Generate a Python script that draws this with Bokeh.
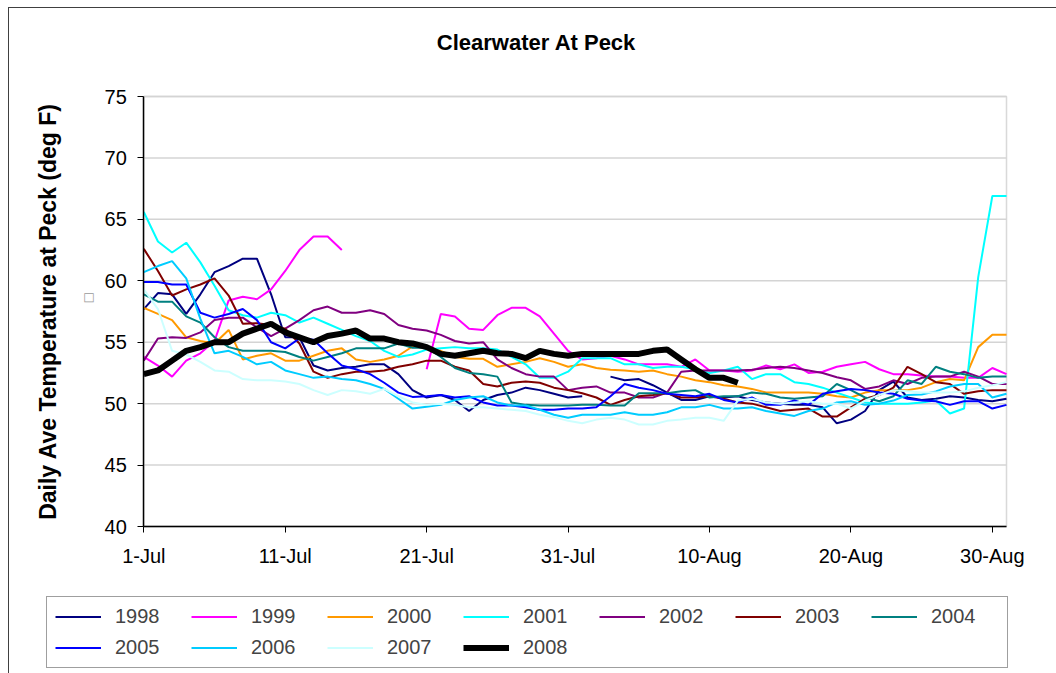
import math
from bokeh.plotting import figure
from bokeh.layouts import column
from bokeh.models import (Legend, LegendItem, FixedTicker, LinearAxis, Label,
                          BoxAnnotation, Range1d)
from bokeh.embed import file_html
from bokeh.resources import INLINE

N = None
days = list(range(62))
tick_days = [0, 10, 20, 30, 40, 50, 60]
tick_labels = ["1-Jul", "11-Jul", "21-Jul", "31-Jul", "10-Aug", "20-Aug", "30-Aug"]
y_ticks = [40, 45, 50, 55, 60, 65, 70, 75]
years = ["1998", "1999", "2000", "2001", "2002", "2003", "2004", "2005", "2006", "2007", "2008"]
chart_title = "Clearwater At Peck"
y_title = "Daily Ave Temperature at Peck (deg F)"

y1998 = [57.7, 59.0, 58.9, 57.3, 58.9, 60.7, 61.2, 61.8, 61.8, 58.9,
         55.4, 55.4, 53.1, 52.7, 52.9, 53.0, 53.2, 53.2, 52.4, 51.1,
         50.5, 50.7, 50.3, 49.4, 50.3, 50.7, 50.9, 51.3, 51.1, 50.8,
         50.5, 50.6, N, 52.2, 51.9, 52.0, 51.5, 50.9, 50.3, 50.3,
         50.6, 50.5, 50.6, 50.3, 50.1, 50.0, 49.9, 49.9, 49.7, 48.4,
         48.7, 49.4, 51.1, 51.8, 50.5, 50.3, 50.4, 50.6, 50.5, 50.3,
         50.2, 50.4]
y1999 = [53.8, 53.1, 52.2, 53.5, 54.1, 55.1, 58.4, 58.7, 58.5, 59.3,
         60.8, 62.5, 63.6, 63.6, 62.5, N, N, N, N, N,
         52.8, 57.3, 57.1, 56.1, 56.0, 57.2, 57.8, 57.8, 57.1, 55.7,
         54.3, 53.6, 53.7, 53.9, 53.6, 53.2, 53.2, 53.2, 53.0, 53.6,
         52.7, 52.7, 52.6, 52.7, 53.1, 52.8, 53.2, 52.5, 52.6, 53.0,
         53.2, 53.4, 52.8, 52.4, 52.4, 52.3, 52.2, 52.2, 52.1, 52.1,
         52.9, 52.4]
y2000 = [57.8, 57.3, 56.8, 55.4, 55.1, 54.9, 56.0, 53.6, 53.9, 54.1,
         53.5, 53.5, 53.9, 54.3, 54.5, 53.6, 53.4, 53.6, 53.9, 54.65,
         54.5, 54.3, 53.8, 53.65, 53.65, 53.0, 53.2, 53.4, 53.7, 53.4,
         53.0, 53.2, 52.9, 52.75, 52.7, 52.6, 52.7, 52.4, 52.2, 51.9,
         51.75, 51.5, 51.4, 51.2, 50.9, 50.9, 50.9, 50.9, 50.8, 50.6,
         50.5, 50.9, 51.1, 51.1, 51.1, 51.3, 51.75, 52.0, 51.9, 54.6,
         55.6, 55.6]
y2001 = [65.6, 63.2, 62.3, 63.1, 61.5, 59.6, 57.6, 57.2, 57.0, 57.4,
         57.2, 56.6, 57.0, 56.5, 56.0, 55.5, 55.1, 54.3, 53.8, 54.0,
         54.4, 54.5, 54.6, 54.5, 54.5, 54.4, 53.8, 53.2, 52.1, 52.1,
         52.6, 53.7, 53.7, 53.7, 53.2, 53.2, 52.9, 53.0, 53.0, 52.8,
         52.5, 52.7, 53.0, 52.0, 52.4, 52.4, 51.75, 51.6, 51.3, 50.9,
         50.5, 50.1, 50.0, 50.0, 50.0, 50.1, 50.25, 49.2, 49.6, 60.3,
         66.9, 66.9]
y2002 = [53.5, 55.3, 55.4, 55.35, 55.8, 56.8, 57.0, 57.0, 56.2, 55.5,
         56.1, 56.8, 57.6, 57.9, 57.4, 57.4, 57.6, 57.3, 56.4, 56.1,
         55.95, 55.6, 55.1, 54.9, 55.0, 53.6, 52.9, 52.4, 52.2, 52.2,
         51.1, 51.3, 51.4, 50.9, 50.9, 50.5, 50.5, 50.9, 52.6, 52.7,
         52.7, 52.7, 52.7, 52.75, 52.9, 53.0, 52.9, 52.7, 52.5, 52.15,
         51.9, 51.2, 51.4, 51.9, 51.6, 52.1, 52.2, 52.2, 52.6, 52.2,
         51.6, 51.6]
y2003 = [62.6, 60.8, 58.8, 59.3, 59.7, 60.2, 58.8, 56.5, 56.55, 56.4,
         56.1, 54.9, 52.6, 52.1, 52.4, 52.6, 52.6, 52.7, 53.0, 53.2,
         53.5, 53.5, 53.0, 52.7, 51.6, 51.4, 51.7, 51.8, 51.7, 51.3,
         51.1, 50.85, 50.5, 49.9, 50.3, 50.6, 50.7, 50.85, 50.5, 50.5,
         50.6, 50.4, 50.1, 50.0, 49.7, 49.4, 49.5, 49.6, 48.95, 48.95,
         49.7, 50.4, 50.7, 51.3, 53.0, 52.4, 51.75, 51.6, 50.8, 51.0,
         51.1, 51.1]
y2004 = [58.9, 58.3, 58.3, 57.1, 56.6, 55.4, 54.6, 54.3, 54.3, 54.3,
         54.2, 53.8, 53.5, 53.8, 54.1, 54.5, 54.5, 54.5, 54.9, 54.55,
         54.55, 53.8, 52.9, 52.5, 52.4, 52.2, 50.1, 49.9, 49.85, 49.85,
         49.85, 49.9, 49.9, 49.85, 49.85, 50.85, 50.85, 50.85, 51.0, 51.1,
         50.5, 50.6, 50.6, 50.9, 50.8, 50.5, 50.4, 50.5, 50.6, 51.6,
         51.1, 50.5, 50.2, 50.6, 51.9, 51.6, 53.0, 52.6, 52.4, 52.1,
         52.2, 52.2]
y2005 = [59.9, 59.9, 59.7, 59.7, 57.4, 57.0, 57.3, 57.7, 56.8, 55.0,
         54.5, 55.3, 55.2, 54.1, 53.1, 52.8, 52.4, 51.7, 50.9, 50.55,
         50.6, 50.7, 50.5, 50.6, 50.1, 49.85, 49.85, 49.7, 49.5, 49.5,
         49.6, 49.6, 49.7, 50.6, 51.6, 51.3, 51.1, 50.8, 50.7, 50.6,
         50.8, 50.3, 50.1, 50.5, 49.9, 49.9, 50.25, 49.9, 50.8, 51.0,
         51.2, 51.1, 50.9, 50.8, 50.4, 50.25, 50.2, 49.9, 50.2, 50.2,
         49.6, 49.9]
y2006 = [60.7, 61.2, 61.6, 60.2, 56.9, 54.1, 54.3, 53.8, 53.2, 53.4,
         52.7, 52.4, 52.1, 52.2, 52.0, 51.9, 51.6, 51.2, 50.4, 49.6,
         49.75, 49.9, 50.3, 50.5, 50.6, 50.1, 49.85, 49.85, 49.5, 49.1,
         48.85, 49.1, 49.1, 49.1, 49.3, 49.1, 49.1, 49.3, 49.7, 49.7,
         49.9, 49.6, 49.6, 49.7, 49.4, 49.2, 49.0, 49.4, 49.6, 50.1,
         50.2, 49.9, 50.0, 50.25, 50.7, 50.75, 51.0, 51.4, 51.6, 51.6,
         50.5, 50.8]
y2007 = [59.3, 57.7, 54.3, 54.0, 53.4, 52.7, 52.6, 52.0, 51.9, 51.9,
         51.8, 51.6, 51.1, 50.7, 51.1, 51.0, 50.8, 51.2, 50.6, 50.1,
         49.9, 50.0, 49.9, 49.7, 49.7, 49.6, 49.5, 49.4, 49.1, 48.9,
         48.6, 48.4, 48.7, 48.85, 48.7, 48.3, 48.3, 48.6, 48.7, 48.85,
         48.85, 48.6, 50.25, 50.4, 50.1, 50.0, 50.1, 50.2, 50.0, 50.0,
         49.6, 50.25, 50.7, 51.1, 51.0, 50.9, 50.9, 50.9, 51.0, 51.3,
         51.5, 51.75]
y2008 = [52.4, 52.7, 53.5, 54.3, 54.6, 55.0, 55.0, 55.7, 56.1, 56.5,
         55.8, 55.4, 55.0, 55.5, 55.7, 55.95, 55.3, 55.3, 55.0, 54.9,
         54.6, 54.05, 53.9, 54.1, 54.3, 54.1, 54.05, 53.7, 54.3, 54.05,
         53.9, 54.05, 54.05, 54.05, 54.05, 54.05, 54.3, 54.4, 53.6, 52.8,
         52.1, 52.1, 51.7, N, N, N, N, N, N, N,
         N, N, N, N, N, N, N, N, N, N,
         N, N]

series = [y1998, y1999, y2000, y2001, y2002, y2003, y2004, y2005, y2006, y2007, y2008]
colors = ["#000080", "#FF00FF", "#FF9900", "#00FFFF", "#800080", "#800000",
          "#008080", "#0000FF", "#00CCFF", "#CCFFFF", "#000000"]
widths = [2, 2, 2, 2, 2, 2, 2, 2, 2, 2, 6]

FONT = "Liberation Sans"

# ---- geometry: one plot whose frame is the whole canvas; the data area sits inside it
W, H = 1047, 665
X0, X1 = 0, 61            # data area, days since 1-Jul
Y0, Y1 = 40, 75           # data area, deg F
AREA_L, AREA_R = 134.3, 997.0   # data-area edges in canvas px
AREA_T, AREA_B = 88.0, 518.0
sx = (AREA_R - AREA_L) / (X1 - X0)
sy = (AREA_B - AREA_T) / (Y1 - Y0)
xr = Range1d(X0 - AREA_L / sx, X1 + (W - AREA_R) / sx)
yr = Range1d(Y0 - (H - AREA_B) / sy, Y1 + AREA_T / sy)


def px_x(c):
    return xr.start + c / sx


def px_y(c):
    return yr.end - c / sy


def clean(ys):
    return [float("nan") if v is None else v for v in ys]


p = figure(width=W, height=H, output_backend="svg", toolbar_location=None,
           x_range=xr, y_range=yr, x_axis_location=None, y_axis_location=None,
           min_border=0, min_border_left=0, min_border_right=0,
           min_border_top=0, min_border_bottom=0)
p.grid.visible = False
p.outline_line_color = None
p.background_fill_color = "white"
p.border_fill_color = "white"

# horizontal gridlines at the y tick values, across the data area
p.segment(x0=[X0] * len(y_ticks), x1=[X1] * len(y_ticks), y0=y_ticks, y1=y_ticks,
          line_color="#D4D4D4", line_width=1.5)
# data-area border (gray top/right)
p.add_layout(BoxAnnotation(left=X0, right=X1, bottom=Y0, top=Y1, fill_alpha=0,
                           line_color="#808080", line_width=1.5, level="underlay"))

xaxis = LinearAxis(fixed_location=Y0, bounds=(X0, X1), ticker=FixedTicker(ticks=tick_days),
                   major_label_overrides={d: t for d, t in zip(tick_days, tick_labels)})
yaxis = LinearAxis(fixed_location=X0, bounds=(Y0, Y1), ticker=FixedTicker(ticks=y_ticks))
for ax in (xaxis, yaxis):
    ax.axis_line_color = "black"
    ax.axis_line_width = 1.5
    ax.major_tick_line_color = "black"
    ax.major_tick_out = 6
    ax.major_tick_in = 0
    ax.minor_tick_line_color = None
    ax.major_label_text_font = FONT
    ax.major_label_text_font_size = "20px"
    ax.major_label_text_color = "black"
xaxis.major_label_standoff = 12
yaxis.major_label_standoff = 11
p.add_layout(xaxis, "below")
p.add_layout(yaxis, "left")

renderers = []
for ys, c, w in zip(series, colors, widths):
    renderers.append(p.line(days, clean(ys), line_color=c, line_width=w))

# texts
p.add_layout(Label(x=px_x(527), y=px_y(34), text=chart_title, text_font=FONT,
                   text_font_size="22px", text_font_style="bold", text_color="black",
                   text_align="center", text_baseline="middle"))
p.add_layout(Label(x=px_x(38), y=px_y(303), text=y_title, text_font=FONT,
                   text_font_size="23px", text_font_style="bold", text_color="black",
                   text_align="center", text_baseline="middle", angle=math.pi / 2))
# placeholder glyph visible in the reference next to the axis title
p.add_layout(Label(x=px_x(78), y=px_y(289), text="\u25a1", text_font="DejaVu Sans",
                   text_font_size="12px", text_color="#9a9a9a",
                   text_align="center", text_baseline="middle", angle=math.pi / 2))

items = [LegendItem(label=yr_, renderers=[r]) for yr_, r in zip(years, renderers)]
legend = Legend(items=items, orientation="horizontal", ncols=7,
                location=(37, 5),
                glyph_width=46, glyph_height=23, label_standoff=14, label_width=68,
                label_height=23, spacing=8, padding=8, margin=0,
                label_text_font=FONT, label_text_font_size="20px",
                border_line_color="#404040", border_line_width=1.5,
                background_fill_color="white", background_fill_alpha=1)
p.add_layout(legend, "center")

page = column(p, styles={"border-left": "1px solid #404040", "border-top": "1px solid #404040",
                         "margin-left": "8px", "margin-top": "7px"})

open("out.html", "w").write(file_html(page, INLINE))
